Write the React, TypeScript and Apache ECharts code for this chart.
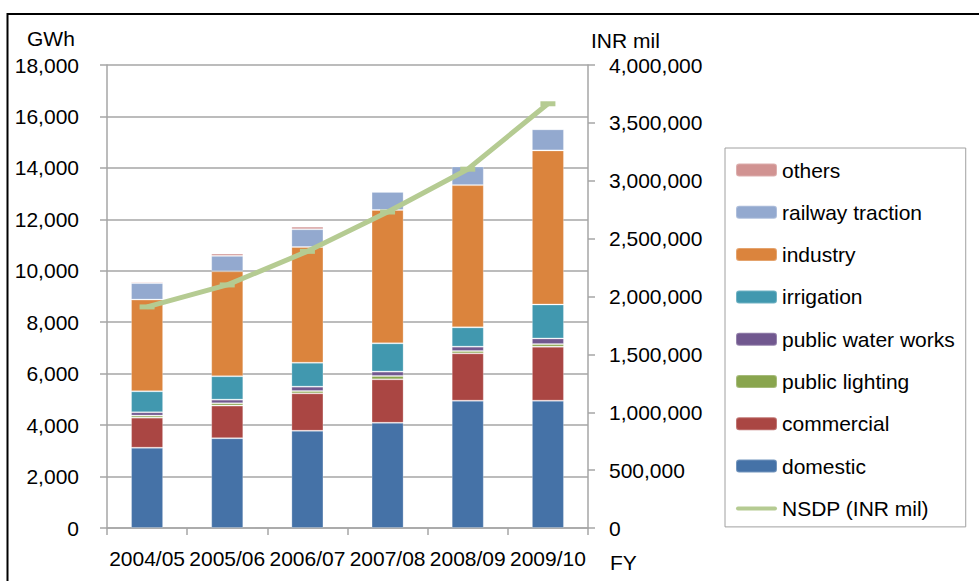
import React, { useEffect, useRef } from "react";
import * as echarts from "echarts";

const years = ["2004/05", "2005/06", "2006/07", "2007/08", "2008/09", "2009/10"];
const domestic = [3120, 3490, 3780, 4090, 4950, 4950];
const commercial = [1170, 1270, 1455, 1690, 1840, 2100];
const publicLighting = [80, 90, 90, 130, 90, 100];
const publicWaterWorks = [130, 140, 170, 170, 170, 220];
const irrigation = [815, 910, 930, 1100, 750, 1320];
const industry = [3565, 4080, 4500, 5185, 5530, 5990];
const railwayTraction = [640, 600, 690, 700, 725, 820];
const others = [50, 90, 100, 40, 20, 20];
const nsdp = [1910000, 2100000, 2390000, 2730000, 3100000, 3665000];

const FONT = "'Liberation Sans', Arial, sans-serif";
const GRID_GRAY = "#a6a6a6";

export default function App() {
  const ref = useRef<HTMLDivElement>(null);
  useEffect(() => {
    if (!ref.current) return;
    const chart = echarts.init(ref.current, undefined, { renderer: "svg" });
    const barStyle = (color: string) => ({
      color,
      borderColor: "rgba(255,255,255,0.25)",
      borderWidth: 1,
    });
    const bar = (name: string, data: number[], color: string) => ({
      name,
      type: "bar",
      stack: "total",
      barWidth: "40%",
      data,
      itemStyle: barStyle(color),
      yAxisIndex: 0,
    });
    const fmt = (v: number) => v.toLocaleString("en-US");
    chart.setOption({
      animation: false,
      textStyle: { fontFamily: FONT },
      grid: { left: 107, right: 391, top: 65, bottom: 53 },
      legend: {
        orient: "vertical",
        left: 725,
        top: 148,
        padding: [11.5, 11, 8, 10],
        borderColor: "#a0a0a0",
        borderWidth: 1,
        itemWidth: 41,
        itemHeight: 13,
        itemGap: 21.3,
        textStyle: { fontSize: 21, color: "#000", fontFamily: FONT, lineHeight: 21 },
        data: [
          { name: "others" },
          { name: "railway traction" },
          { name: "industry" },
          { name: "irrigation" },
          { name: "public water works" },
          { name: "public lighting" },
          { name: "commercial" },
          { name: "domestic" },
          { name: "NSDP (INR mil)", icon: "path://M2,0 L39,0 A2,2 0 0 1 39,4 L2,4 A2,2 0 0 1 2,0 Z" },
        ],
      },
      xAxis: {
        type: "category",
        data: years,
        axisLine: { lineStyle: { color: GRID_GRAY, width: 1.5 } },
        axisTick: { show: true, alignWithLabel: false, length: 7, lineStyle: { color: GRID_GRAY, width: 1.5 } },
        axisLabel: { color: "#000", fontSize: 21, margin: 20, fontFamily: FONT, interval: 0 },
      },
      yAxis: [
        {
          type: "value",
          min: 0,
          max: 18000,
          interval: 2000,
          axisLine: { show: true, lineStyle: { color: GRID_GRAY, width: 1.5 } },
          axisTick: { show: true, length: 7, lineStyle: { color: GRID_GRAY, width: 1.5 } },
          splitLine: { show: true, lineStyle: { color: GRID_GRAY, width: 1.5 } },
          axisLabel: { color: "#000", fontSize: 21, margin: 28, fontFamily: FONT, formatter: fmt },
        },
        {
          type: "value",
          min: 0,
          max: 4000000,
          interval: 500000,
          position: "right",
          axisLine: { show: true, lineStyle: { color: GRID_GRAY, width: 1.5 } },
          axisTick: { show: true, length: 7, lineStyle: { color: GRID_GRAY, width: 1.5 } },
          splitLine: { show: false },
          axisLabel: { color: "#000", fontSize: 21, margin: 21, fontFamily: FONT, formatter: fmt },
        },
      ],
      series: [
        bar("domestic", domestic, "#4572a7"),
        bar("commercial", commercial, "#aa4643"),
        bar("public lighting", publicLighting, "#89a54e"),
        bar("public water works", publicWaterWorks, "#71588f"),
        bar("irrigation", irrigation, "#4198af"),
        bar("industry", industry, "#db843d"),
        bar("railway traction", railwayTraction, "#93a9cf"),
        bar("others", others, "#d19392"),
        {
          name: "NSDP (INR mil)",
          type: "line",
          yAxisIndex: 1,
          data: nsdp,
          color: "#b5cb92",
          lineStyle: { color: "#b5cb92", width: 5 },
          itemStyle: { color: "#b5cb92" },
          symbol: "rect",
          symbolSize: [15, 5],
          showSymbol: true,
          z: 5,
        },
      ],
      graphic: [
        {
          type: "rect",
          shape: { x: 7.5, y: 14, width: 1000, height: 600 },
          style: { fill: "none", stroke: "#000", lineWidth: 2 },
          silent: true,
        },
        { type: "text", left: 27, top: 28, style: { text: "GWh", fontSize: 21, fill: "#000", fontFamily: FONT } },
        { type: "text", left: 591, top: 30, style: { text: "INR mil", fontSize: 21, fill: "#000", fontFamily: FONT } },
        { type: "text", left: 610, top: 552, style: { text: "FY", fontSize: 21, fill: "#000", fontFamily: FONT } },
      ],
    });
    return () => chart.dispose();
  }, []);
  return <div ref={ref} style={{ position: "absolute", left: 0, top: 0, width: 979, height: 581 }} />;
}
